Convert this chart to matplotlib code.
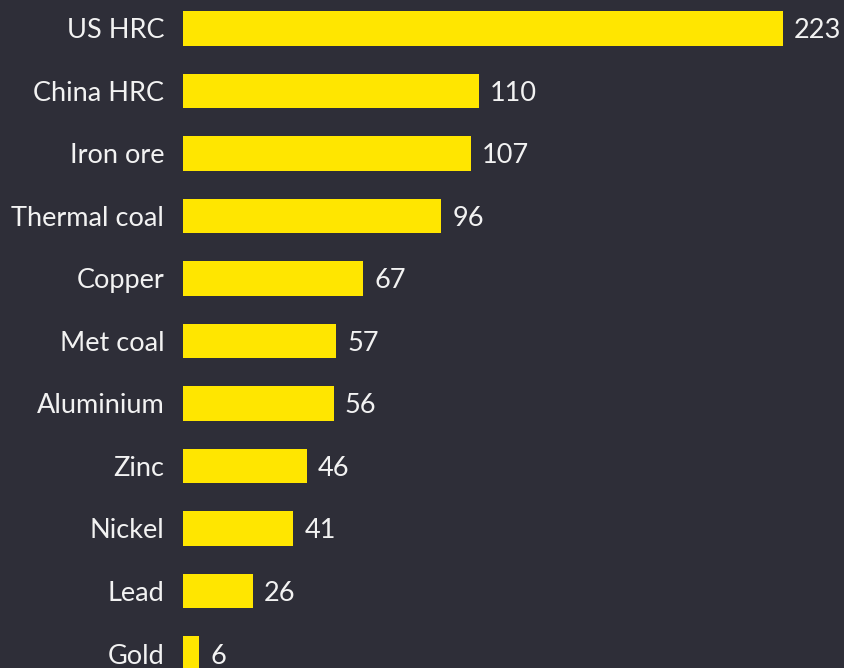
import matplotlib.pyplot as plt

commodities = ['US HRC', 'China HRC', 'Iron ore', 'Thermal coal', 'Copper',
               'Met coal', 'Aluminium', 'Zinc', 'Nickel', 'Lead', 'Gold']
values = [223, 110, 107, 96, 67, 57, 56, 46, 41, 26, 6]

bg = '#2e2e38'
yellow = '#ffe600'
txt = '#f2f2f2'

plt.rcParams['font.family'] = ['Lato', 'DejaVu Sans']

fig = plt.figure(figsize=(8.44, 6.68), dpi=100, facecolor=bg)
ax = fig.add_axes([183 / 844, 0, 1 - 183 / 844, 1])
ax.set_facecolor(bg)

y = list(range(len(commodities)))
ax.barh(y, values, height=0.55, color=yellow)

px = 600 / 223
ax.set_xlim(0, (844 - 183) / px)
ax.set_ylim((668 - 28.5) / 62.5, -28.5 / 62.5)

for i, v in enumerate(values):
    ax.text(v + 11 / px, i, str(v), color=txt, fontsize=19.5,
            va='center_baseline', ha='left')

ax.set_yticks(y)
ax.set_yticklabels(commodities, color=txt, fontsize=19.5, va='center_baseline')
ax.tick_params(axis='y', length=0, pad=13.5)
ax.set_xticks([])
for s in ax.spines.values():
    s.set_visible(False)

fig.savefig('out.png', dpi=100, facecolor=bg)
